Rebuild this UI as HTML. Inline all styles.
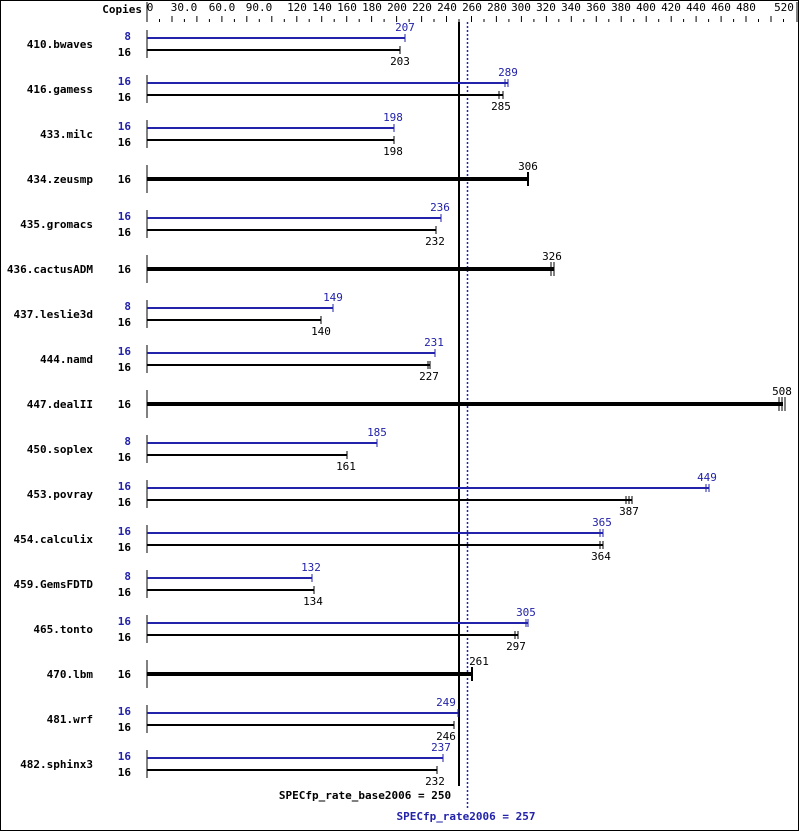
<!DOCTYPE html>
<html><head><style>
html,body{margin:0;padding:0;background:#fff}
svg{display:block}
text{font-family:"DejaVu Sans Mono","Liberation Mono",monospace;font-size:11px}
.n{font-weight:bold;text-anchor:end}
.c{font-weight:bold;text-anchor:end}
.b{fill:#2222aa}
.v{text-anchor:middle}
</style></head><body>
<svg width="799" height="831" viewBox="0 0 799 831" xmlns="http://www.w3.org/2000/svg">
<rect x="0.5" y="0.5" width="798" height="830" fill="#fff" stroke="#000"/>
<text x="142" y="13" class="n">Copies</text>
<line x1="147" y1="2" x2="147" y2="22" stroke="#000"/>
<line x1="797" y1="2" x2="797" y2="22" stroke="#000"/>
<g stroke="#000">
<line x1="159.5" y1="19" x2="159.5" y2="22"/><line x1="172" y1="16" x2="172" y2="22"/><line x1="184.4" y1="19" x2="184.4" y2="22"/><line x1="196.9" y1="16" x2="196.9" y2="22"/><line x1="209.4" y1="19" x2="209.4" y2="22"/><line x1="221.9" y1="16" x2="221.9" y2="22"/><line x1="234.4" y1="19" x2="234.4" y2="22"/><line x1="246.8" y1="16" x2="246.8" y2="22"/><line x1="259.3" y1="19" x2="259.3" y2="22"/><line x1="271.8" y1="16" x2="271.8" y2="22"/><line x1="284.3" y1="19" x2="284.3" y2="22"/><line x1="296.8" y1="16" x2="296.8" y2="22"/><line x1="309.2" y1="19" x2="309.2" y2="22"/><line x1="321.7" y1="16" x2="321.7" y2="22"/><line x1="334.2" y1="19" x2="334.2" y2="22"/><line x1="346.7" y1="16" x2="346.7" y2="22"/><line x1="359.2" y1="19" x2="359.2" y2="22"/><line x1="371.6" y1="16" x2="371.6" y2="22"/><line x1="384.1" y1="19" x2="384.1" y2="22"/><line x1="396.6" y1="16" x2="396.6" y2="22"/><line x1="409.1" y1="19" x2="409.1" y2="22"/><line x1="421.6" y1="16" x2="421.6" y2="22"/><line x1="434" y1="19" x2="434" y2="22"/><line x1="446.5" y1="16" x2="446.5" y2="22"/><line x1="459" y1="19" x2="459" y2="22"/><line x1="471.5" y1="16" x2="471.5" y2="22"/><line x1="484" y1="19" x2="484" y2="22"/><line x1="496.4" y1="16" x2="496.4" y2="22"/><line x1="508.9" y1="19" x2="508.9" y2="22"/><line x1="521.4" y1="16" x2="521.4" y2="22"/><line x1="533.9" y1="19" x2="533.9" y2="22"/><line x1="546.4" y1="16" x2="546.4" y2="22"/><line x1="558.8" y1="19" x2="558.8" y2="22"/><line x1="571.3" y1="16" x2="571.3" y2="22"/><line x1="583.8" y1="19" x2="583.8" y2="22"/><line x1="596.3" y1="16" x2="596.3" y2="22"/><line x1="608.8" y1="19" x2="608.8" y2="22"/><line x1="621.2" y1="16" x2="621.2" y2="22"/><line x1="633.7" y1="19" x2="633.7" y2="22"/><line x1="646.2" y1="16" x2="646.2" y2="22"/><line x1="658.7" y1="19" x2="658.7" y2="22"/><line x1="671.2" y1="16" x2="671.2" y2="22"/><line x1="683.6" y1="19" x2="683.6" y2="22"/><line x1="696.1" y1="16" x2="696.1" y2="22"/><line x1="708.6" y1="19" x2="708.6" y2="22"/><line x1="721.1" y1="16" x2="721.1" y2="22"/><line x1="733.6" y1="19" x2="733.6" y2="22"/><line x1="746" y1="16" x2="746" y2="22"/><line x1="758.5" y1="19" x2="758.5" y2="22"/><line x1="771" y1="16" x2="771" y2="22"/><line x1="783.5" y1="19" x2="783.5" y2="22"/>
</g>
<g class="v">
<text x="150" y="11" class="v">0</text><text x="184" y="11" class="v">30.0</text><text x="222" y="11" class="v">60.0</text><text x="259" y="11" class="v">90.0</text><text x="297" y="11" class="v">120</text><text x="322" y="11" class="v">140</text><text x="347" y="11" class="v">160</text><text x="372" y="11" class="v">180</text><text x="397" y="11" class="v">200</text><text x="422" y="11" class="v">220</text><text x="447" y="11" class="v">240</text><text x="472" y="11" class="v">260</text><text x="497" y="11" class="v">280</text><text x="521" y="11" class="v">300</text><text x="546" y="11" class="v">320</text><text x="571" y="11" class="v">340</text><text x="596" y="11" class="v">360</text><text x="621" y="11" class="v">380</text><text x="646" y="11" class="v">400</text><text x="671" y="11" class="v">420</text><text x="696" y="11" class="v">440</text><text x="721" y="11" class="v">460</text><text x="746" y="11" class="v">480</text><text x="784" y="11" class="v">520</text>
</g>

<line x1="459" y1="22" x2="459" y2="786" stroke="#000" stroke-width="2"/>
<line x1="467.5" y1="22" x2="467.5" y2="810" stroke="#2222aa" stroke-width="1.5" stroke-dasharray="2,2"/>
<text x="365" y="799" class="v" style="font-weight:bold">SPECfp_rate_base2006 = 250</text>
<text x="466" y="820" class="v b" style="font-weight:bold">SPECfp_rate2006 = 257</text>

<!-- dual row macro manually -->
<g id="rows">
<!-- 410 c=44 -->
<text x="93" y="48" class="n">410.bwaves</text>
<text x="131" y="40" class="c b">8</text><text x="131" y="56" class="c">16</text>
<line x1="147" y1="30" x2="147" y2="58" stroke="#000"/>
<line x1="147" y1="38" x2="405" y2="38" stroke="#2222aa" stroke-width="2"/><line x1="405" y1="34" x2="405" y2="42" stroke="#2222aa"/>
<line x1="147" y1="50" x2="400" y2="50" stroke="#000" stroke-width="2"/><line x1="400" y1="46" x2="400" y2="54" stroke="#000"/>
<text x="405" y="31" class="v b">207</text><text x="400" y="65" class="v">203</text>
<!-- 416 c=89 -->
<text x="93" y="93" class="n">416.gamess</text>
<text x="131" y="85" class="c b">16</text><text x="131" y="101" class="c">16</text>
<line x1="147" y1="75" x2="147" y2="103" stroke="#000"/>
<line x1="147" y1="83" x2="508" y2="83" stroke="#2222aa" stroke-width="2"/><line x1="508" y1="79" x2="508" y2="87" stroke="#2222aa"/><line x1="505" y1="79" x2="505" y2="87" stroke="#2222aa"/>
<line x1="147" y1="95" x2="503" y2="95" stroke="#000" stroke-width="2"/><line x1="503" y1="91" x2="503" y2="99" stroke="#000"/><line x1="499" y1="91" x2="499" y2="99" stroke="#000"/>
<text x="508" y="76" class="v b">289</text><text x="501" y="110" class="v">285</text>
<!-- 433 c=134 -->
<text x="93" y="138" class="n">433.milc</text>
<text x="131" y="130" class="c b">16</text><text x="131" y="146" class="c">16</text>
<line x1="147" y1="120" x2="147" y2="148" stroke="#000"/>
<line x1="147" y1="128" x2="394" y2="128" stroke="#2222aa" stroke-width="2"/><line x1="394" y1="124" x2="394" y2="132" stroke="#2222aa"/>
<line x1="147" y1="140" x2="394" y2="140" stroke="#000" stroke-width="2"/><line x1="394" y1="136" x2="394" y2="144" stroke="#000"/>
<text x="393" y="121" class="v b">198</text><text x="393" y="155" class="v">198</text>
<!-- 434 c=179 -->
<text x="93" y="183" class="n">434.zeusmp</text>
<text x="131" y="183" class="c">16</text>
<line x1="147" y1="165" x2="147" y2="193" stroke="#000"/>
<line x1="147" y1="179" x2="528" y2="179" stroke="#000" stroke-width="4"/><line x1="528" y1="172" x2="528" y2="186" stroke="#000" stroke-width="2"/>
<text x="528" y="170" class="v">306</text>
<!-- 435 c=224 -->
<text x="93" y="228" class="n">435.gromacs</text>
<text x="131" y="220" class="c b">16</text><text x="131" y="236" class="c">16</text>
<line x1="147" y1="210" x2="147" y2="238" stroke="#000"/>
<line x1="147" y1="218" x2="441" y2="218" stroke="#2222aa" stroke-width="2"/><line x1="441" y1="214" x2="441" y2="222" stroke="#2222aa"/>
<line x1="147" y1="230" x2="436" y2="230" stroke="#000" stroke-width="2"/><line x1="436" y1="226" x2="436" y2="234" stroke="#000"/>
<text x="440" y="211" class="v b">236</text><text x="435" y="245" class="v">232</text>
<!-- 436 c=269 -->
<text x="93" y="273" class="n">436.cactusADM</text>
<text x="131" y="273" class="c">16</text>
<line x1="147" y1="255" x2="147" y2="283" stroke="#000"/>
<line x1="147" y1="269" x2="554" y2="269" stroke="#000" stroke-width="4"/><line x1="554" y1="262" x2="554" y2="276" stroke="#000"/><line x1="551" y1="262" x2="551" y2="276" stroke="#000"/>
<text x="552" y="260" class="v">326</text>
<!-- 437 c=314 -->
<text x="93" y="318" class="n">437.leslie3d</text>
<text x="131" y="310" class="c b">8</text><text x="131" y="326" class="c">16</text>
<line x1="147" y1="300" x2="147" y2="328" stroke="#000"/>
<line x1="147" y1="308" x2="333" y2="308" stroke="#2222aa" stroke-width="2"/><line x1="333" y1="304" x2="333" y2="312" stroke="#2222aa"/>
<line x1="147" y1="320" x2="321" y2="320" stroke="#000" stroke-width="2"/><line x1="321" y1="316" x2="321" y2="324" stroke="#000"/>
<text x="333" y="301" class="v b">149</text><text x="321" y="335" class="v">140</text>
<!-- 444 c=359 -->
<text x="93" y="363" class="n">444.namd</text>
<text x="131" y="355" class="c b">16</text><text x="131" y="371" class="c">16</text>
<line x1="147" y1="345" x2="147" y2="373" stroke="#000"/>
<line x1="147" y1="353" x2="435" y2="353" stroke="#2222aa" stroke-width="2"/><line x1="435" y1="349" x2="435" y2="357" stroke="#2222aa"/>
<line x1="147" y1="365" x2="430" y2="365" stroke="#000" stroke-width="2"/><line x1="430" y1="361" x2="430" y2="369" stroke="#000"/><line x1="428" y1="361" x2="428" y2="369" stroke="#000"/>
<text x="434" y="346" class="v b">231</text><text x="429" y="380" class="v">227</text>
<!-- 447 c=404 -->
<text x="93" y="408" class="n">447.dealII</text>
<text x="131" y="408" class="c">16</text>
<line x1="147" y1="390" x2="147" y2="418" stroke="#000"/>
<line x1="147" y1="404" x2="783" y2="404" stroke="#000" stroke-width="4"/><line x1="779" y1="397" x2="779" y2="411" stroke="#000"/><line x1="782" y1="397" x2="782" y2="411" stroke="#000"/><line x1="785" y1="397" x2="785" y2="411" stroke="#000"/>
<text x="782" y="395" class="v">508</text>
<!-- 450 c=449 -->
<text x="93" y="453" class="n">450.soplex</text>
<text x="131" y="445" class="c b">8</text><text x="131" y="461" class="c">16</text>
<line x1="147" y1="435" x2="147" y2="463" stroke="#000"/>
<line x1="147" y1="443" x2="377" y2="443" stroke="#2222aa" stroke-width="2"/><line x1="377" y1="439" x2="377" y2="447" stroke="#2222aa"/>
<line x1="147" y1="455" x2="347" y2="455" stroke="#000" stroke-width="2"/><line x1="347" y1="451" x2="347" y2="459" stroke="#000"/>
<text x="377" y="436" class="v b">185</text><text x="346" y="470" class="v">161</text>
<!-- 453 c=494 -->
<text x="93" y="498" class="n">453.povray</text>
<text x="131" y="490" class="c b">16</text><text x="131" y="506" class="c">16</text>
<line x1="147" y1="480" x2="147" y2="508" stroke="#000"/>
<line x1="147" y1="488" x2="709" y2="488" stroke="#2222aa" stroke-width="2"/><line x1="709" y1="484" x2="709" y2="492" stroke="#2222aa"/><line x1="706" y1="484" x2="706" y2="492" stroke="#2222aa"/>
<line x1="147" y1="500" x2="632" y2="500" stroke="#000" stroke-width="2"/><line x1="632" y1="496" x2="632" y2="504" stroke="#000"/><line x1="629" y1="496" x2="629" y2="504" stroke="#000"/><line x1="626" y1="496" x2="626" y2="504" stroke="#000"/>
<text x="707" y="481" class="v b">449</text><text x="629" y="515" class="v">387</text>
<!-- 454 c=539 -->
<text x="93" y="543" class="n">454.calculix</text>
<text x="131" y="535" class="c b">16</text><text x="131" y="551" class="c">16</text>
<line x1="147" y1="525" x2="147" y2="553" stroke="#000"/>
<line x1="147" y1="533" x2="603" y2="533" stroke="#2222aa" stroke-width="2"/><line x1="603" y1="529" x2="603" y2="537" stroke="#2222aa"/><line x1="600" y1="529" x2="600" y2="537" stroke="#2222aa"/>
<line x1="147" y1="545" x2="603" y2="545" stroke="#000" stroke-width="2"/><line x1="603" y1="541" x2="603" y2="549" stroke="#000"/><line x1="600" y1="541" x2="600" y2="549" stroke="#000"/>
<text x="602" y="526" class="v b">365</text><text x="601" y="560" class="v">364</text>
<!-- 459 c=584 -->
<text x="93" y="588" class="n">459.GemsFDTD</text>
<text x="131" y="580" class="c b">8</text><text x="131" y="596" class="c">16</text>
<line x1="147" y1="570" x2="147" y2="598" stroke="#000"/>
<line x1="147" y1="578" x2="312" y2="578" stroke="#2222aa" stroke-width="2"/><line x1="312" y1="574" x2="312" y2="582" stroke="#2222aa"/>
<line x1="147" y1="590" x2="314" y2="590" stroke="#000" stroke-width="2"/><line x1="314" y1="586" x2="314" y2="594" stroke="#000"/>
<text x="311" y="571" class="v b">132</text><text x="313" y="605" class="v">134</text>
<!-- 465 c=629 -->
<text x="93" y="633" class="n">465.tonto</text>
<text x="131" y="625" class="c b">16</text><text x="131" y="641" class="c">16</text>
<line x1="147" y1="615" x2="147" y2="643" stroke="#000"/>
<line x1="147" y1="623" x2="528" y2="623" stroke="#2222aa" stroke-width="2"/><line x1="528" y1="619" x2="528" y2="627" stroke="#2222aa"/><line x1="526" y1="619" x2="526" y2="627" stroke="#2222aa"/>
<line x1="147" y1="635" x2="518" y2="635" stroke="#000" stroke-width="2"/><line x1="518" y1="631" x2="518" y2="639" stroke="#000"/><line x1="515" y1="631" x2="515" y2="639" stroke="#000"/>
<text x="526" y="616" class="v b">305</text><text x="516" y="650" class="v">297</text>
<!-- 470 c=674 -->
<text x="93" y="678" class="n">470.lbm</text>
<text x="131" y="678" class="c">16</text>
<line x1="147" y1="660" x2="147" y2="688" stroke="#000"/>
<line x1="147" y1="674" x2="472" y2="674" stroke="#000" stroke-width="4"/><line x1="472" y1="667" x2="472" y2="681" stroke="#000" stroke-width="2"/>
<text x="479" y="665" class="v">261</text>
<!-- 481 c=719 -->
<text x="93" y="723" class="n">481.wrf</text>
<text x="131" y="715" class="c b">16</text><text x="131" y="731" class="c">16</text>
<line x1="147" y1="705" x2="147" y2="733" stroke="#000"/>
<line x1="147" y1="713" x2="458" y2="713" stroke="#2222aa" stroke-width="2"/><line x1="458" y1="709" x2="458" y2="717" stroke="#2222aa"/>
<line x1="147" y1="725" x2="454" y2="725" stroke="#000" stroke-width="2"/><line x1="454" y1="721" x2="454" y2="729" stroke="#000"/>
<text x="446" y="706" class="v b">249</text><text x="446" y="740" class="v">246</text>
<!-- 482 c=764 -->
<text x="93" y="768" class="n">482.sphinx3</text>
<text x="131" y="760" class="c b">16</text><text x="131" y="776" class="c">16</text>
<line x1="147" y1="750" x2="147" y2="778" stroke="#000"/>
<line x1="147" y1="758" x2="443" y2="758" stroke="#2222aa" stroke-width="2"/><line x1="443" y1="754" x2="443" y2="762" stroke="#2222aa"/>
<line x1="147" y1="770" x2="437" y2="770" stroke="#000" stroke-width="2"/><line x1="437" y1="766" x2="437" y2="774" stroke="#000"/>
<text x="441" y="751" class="v b">237</text><text x="435" y="785" class="v">232</text>
</g>
</svg>
</body></html>
